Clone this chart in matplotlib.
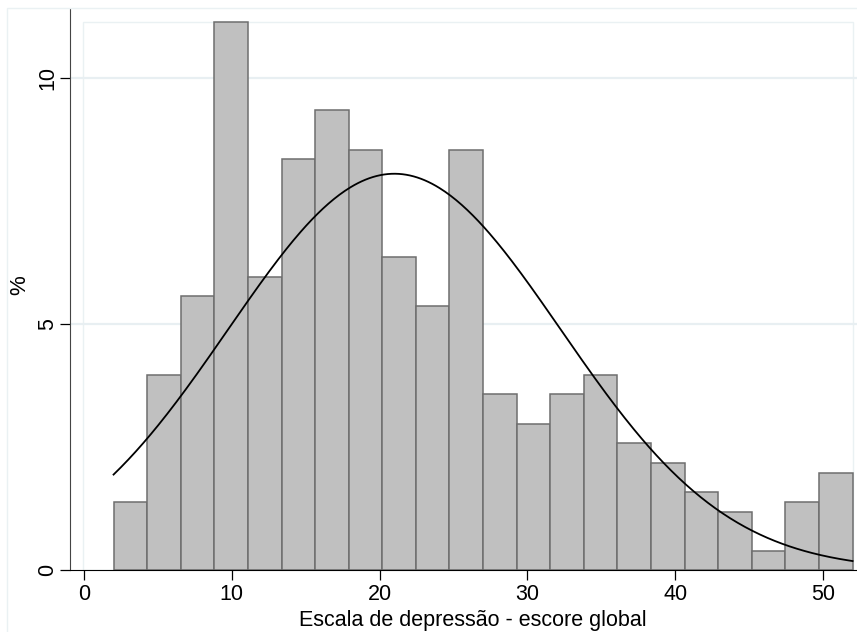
import numpy as np
import matplotlib.pyplot as plt
from matplotlib.patches import Rectangle

plt.rcParams["font.family"] = ["Liberation Sans", "DejaVu Sans"]

# Histogram of the depression score (percent per bin)
bin_start = 2.0
bin_end = 52.0
percent = [1.38, 3.97, 5.56, 11.14, 5.96, 8.35, 9.35, 8.54, 6.36, 5.37, 8.54,
           3.58, 2.97, 3.58, 3.97, 2.58, 2.17, 1.59, 1.18, 0.39, 1.38, 1.98]
# Fitted normal curve parameters
score_mean = 21.0
score_sd = 11.26

x_ticks = [0, 10, 20, 30, 40, 50]
y_ticks = [0, 5, 10]

n_bins = len(percent)
edges = np.linspace(bin_start, bin_end, n_bins + 1)
width = edges[1] - edges[0]

fig = plt.figure(figsize=(8.57, 6.32), dpi=100)
ax = fig.add_axes([70 / 857, 62 / 632, 787 / 857, 561 / 632])

# Light graph-region frame (Stata style)
frame_color = "#eaf1f3"
fig.patches.append(Rectangle((7 / 857, -0.1), 1.2, (632 - 8) / 632 + 0.1,
                             transform=fig.transFigure, fill=False,
                             edgecolor=frame_color, linewidth=1.0, zorder=0))

ax.set_xlim(-0.947, 52.3)
ax.set_ylim(0, 11.40)

# Plot-region frame and grid
ax.add_patch(Rectangle((-0.07, 0), 52.1, max(percent), fill=False,
                       edgecolor=frame_color, linewidth=1.0, zorder=0))
for yv in y_ticks[1:]:
    ax.axhline(yv, color="#e8eff2", linewidth=1.6, zorder=0.5)

ax.bar(edges[:-1], percent, width=width, align="edge",
       color="#c0c0c0", edgecolor="#6e6e6e", linewidth=1.1, zorder=2)

xs = np.linspace(bin_start, bin_end, 400)
curve = 100 * width * np.exp(-0.5 * ((xs - score_mean) / score_sd) ** 2) / (score_sd * np.sqrt(2 * np.pi))
ax.plot(xs, curve, color="black", linewidth=1.3, zorder=3)

for side in ["top", "right"]:
    ax.spines[side].set_visible(False)
ax.spines["left"].set_color("#444444")
ax.spines["bottom"].set_color("black")

ax.set_xticks(x_ticks)
ax.set_yticks(y_ticks)
ax.tick_params(axis="both", direction="out", length=7, width=0.9,
               labelsize=15.5)
ax.tick_params(axis="x", pad=3)
ax.tick_params(axis="y", pad=1.5)
for lbl in ax.get_yticklabels():
    lbl.set_rotation(90)
    lbl.set_va("center")

ax.set_xlabel("Escala de depressão - escore global", fontsize=15.5)
ax.xaxis.set_label_coords(0.512, -0.072)
ax.set_ylabel("%", fontsize=16)
ax.yaxis.set_label_coords(-0.050, 0.508)

fig.savefig("out.png", dpi=100)
